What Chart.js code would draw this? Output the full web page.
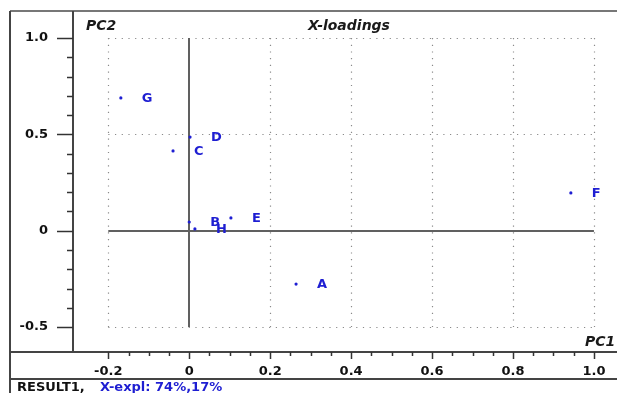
<!DOCTYPE html>
<html lang="en">
<head>
<meta charset="UTF-8">
<title>X-loadings</title>
<script src="https://cdn.jsdelivr.net/npm/chart.js"></script>
<style>
  html, body { margin: 0; padding: 0; background: #fff; }
  #chart { display: block; }
</style>
</head>
<body>
<canvas id="chart" width="617" height="393"></canvas>
<script>
// loadings
const names = ['A', 'B', 'C', 'D', 'E', 'F', 'G', 'H'];
const pc1 = [0.264, 0.0, -0.040, 0.002, 0.103, 0.943, -0.169, 0.014];
const pc2 = [-0.277, 0.045, 0.414, 0.486, 0.066, 0.196, 0.689, 0.009];

const xTicks = [-0.2, 0, 0.2, 0.4, 0.6, 0.8, 1.0];
const yTicks = [-0.5, 0, 0.5, 1.0];
const xMinorStep = 0.05;
const yMinorStep = 0.1;

const BLUE = '#1e1ed2';
const FONT = 'DejaVu Sans';

function fmt(v) {
  return Math.abs(v) < 1e-9 ? '0' : v.toFixed(1);
}

// keep chart.js from shrinking the plot to make room for edge labels
function noPad(s) {
  s.paddingLeft = 0; s.paddingRight = 0; s.paddingTop = 0; s.paddingBottom = 0;
}

const framePlugin = {
  id: 'frame',
  beforeDatasetsDraw(chart) {
    const ctx = chart.ctx;
    const x = chart.scales.x, y = chart.scales.y;
    const x0 = x.getPixelForValue(xTicks[0]), x1 = x.getPixelForValue(xTicks[xTicks.length - 1]);
    const y0 = y.getPixelForValue(yTicks[0]), y1 = y.getPixelForValue(yTicks[yTicks.length - 1]);
    ctx.save();
    // dotted grid
    ctx.strokeStyle = '#8a8a8a';
    ctx.lineWidth = 1.2;
    ctx.setLineDash([1.2, 5.5]);
    xTicks.forEach(v => {
      if (v === 0) return;
      const px = Math.round(x.getPixelForValue(v)) + 0.5;
      ctx.beginPath(); ctx.moveTo(px, y1); ctx.lineTo(px, y0); ctx.stroke();
    });
    yTicks.forEach(v => {
      if (v === 0) return;
      const py = Math.round(y.getPixelForValue(v)) + 0.5;
      ctx.beginPath(); ctx.moveTo(x0, py); ctx.lineTo(x1, py); ctx.stroke();
    });
    // zero axes
    ctx.setLineDash([]);
    ctx.strokeStyle = '#606060';
    ctx.lineWidth = 2;
    const zx = Math.round(x.getPixelForValue(0));
    const zy = Math.round(y.getPixelForValue(0));
    ctx.beginPath(); ctx.moveTo(x0, zy); ctx.lineTo(x1, zy); ctx.stroke();
    ctx.beginPath(); ctx.moveTo(zx, y1); ctx.lineTo(zx, y0); ctx.stroke();
    ctx.restore();
  },
  afterDatasetsDraw(chart) {
    const ctx = chart.ctx;
    const meta = chart.getDatasetMeta(0);
    ctx.save();
    ctx.fillStyle = BLUE;
    ctx.font = 'bold 13px "' + FONT + '"';
    ctx.textAlign = 'left';
    ctx.textBaseline = 'middle';
    meta.data.forEach((pt, i) => {
      ctx.fillText(names[i], pt.x + 21, pt.y + 1);
    });
    ctx.restore();
  },
  afterDraw(chart) {
    const ctx = chart.ctx;
    const a = chart.chartArea;
    const x = chart.scales.x, y = chart.scales.y;
    const W = chart.width, H = chart.height;
    ctx.save();
    // outer frame
    ctx.strokeStyle = '#777';
    ctx.lineWidth = 2;
    ctx.beginPath(); ctx.moveTo(10, 11); ctx.lineTo(W, 11); ctx.stroke();
    ctx.strokeStyle = '#444';
    ctx.beginPath(); ctx.moveTo(10, 11); ctx.lineTo(10, H); ctx.stroke();
    ctx.beginPath(); ctx.moveTo(a.left, 11); ctx.lineTo(a.left, a.bottom); ctx.stroke();
    ctx.beginPath(); ctx.moveTo(10, a.bottom); ctx.lineTo(W, a.bottom); ctx.stroke();
    ctx.beginPath(); ctx.moveTo(10, 379); ctx.lineTo(W, 379); ctx.stroke();

    // tick marks
    ctx.strokeStyle = '#333';
    ctx.lineWidth = 1.5;
    const n = Math.round((xTicks[xTicks.length - 1] - xTicks[0]) / xMinorStep);
    for (let i = 0; i <= n; i++) {
      const v = xTicks[0] + i * xMinorStep;
      const major = i % 4 === 0;
      const px = Math.round(x.getPixelForValue(v)) + 0.5;
      ctx.beginPath(); ctx.moveTo(px, a.bottom); ctx.lineTo(px, a.bottom + (major ? 7 : 4)); ctx.stroke();
    }
    const m = Math.round((yTicks[yTicks.length - 1] - yTicks[0]) / yMinorStep);
    for (let i = 0; i <= m; i++) {
      const v = yTicks[0] + i * yMinorStep;
      const major = i % 5 === 0;
      const py = Math.round(y.getPixelForValue(v)) + 0.5;
      ctx.beginPath(); ctx.moveTo(a.left, py); ctx.lineTo(a.left - (major ? 16 : 6), py); ctx.stroke();
    }

    // titles
    ctx.fillStyle = '#1a1a1a';
    ctx.font = 'italic bold 14px "' + FONT + '"';
    ctx.textBaseline = 'middle';
    ctx.textAlign = 'left';
    ctx.fillText('PC2', 86, 26);
    ctx.fillText('X-loadings', 308, 26);
    ctx.fillText('PC1', 585, 342);

    // status line
    ctx.font = 'bold 13px "' + FONT + '"';
    ctx.textBaseline = 'alphabetic';
    ctx.fillStyle = '#111';
    ctx.fillText('RESULT1,', 17, 391);
    ctx.fillStyle = BLUE;
    ctx.fillText('X-expl: 74%,17%', 100, 391);
    ctx.restore();
  }
};

const ctx = document.getElementById('chart').getContext('2d');
new Chart(ctx, {
  type: 'scatter',
  data: {
    datasets: [{
      label: 'X-loadings',
      data: pc1.map((v, i) => ({ x: v, y: pc2[i] })),
      backgroundColor: BLUE,
      borderColor: BLUE,
      pointRadius: 1.6,
      borderWidth: 0
    }]
  },
  options: {
    responsive: false,
    animation: false,
    layout: { autoPadding: false, padding: { top: 11, left: 0, right: 0, bottom: 0 } },
    plugins: {
      legend: { display: false },
      tooltip: { enabled: false },
      title: { display: false }
    },
    scales: {
      x: {
        type: 'linear',
        position: 'bottom',
        min: -0.2872,
        max: 1.057,
        afterBuildTicks: s => { s.ticks = xTicks.map(v => ({ value: v })); },
        afterFit: s => { s.height = 41; noPad(s); },
        grid: { display: true, drawOnChartArea: false, color: 'rgba(0,0,0,0)', tickLength: 7 },
        border: { display: false },
        ticks: {
          padding: 5,
          maxRotation: 0,
          autoSkip: false,
          color: '#111',
          font: { family: FONT, size: 13, weight: 'bold' },
          callback: v => fmt(v)
        }
      },
      y: {
        type: 'linear',
        position: 'left',
        min: -0.6295,
        max: 1.14,
        afterBuildTicks: s => { s.ticks = yTicks.map(v => ({ value: v })); },
        afterFit: s => { s.width = 73; noPad(s); },
        grid: { display: true, drawOnChartArea: false, color: 'rgba(0,0,0,0)', tickLength: 16 },
        border: { display: false },
        ticks: {
          padding: 9,
          autoSkip: false,
          color: '#111',
          font: { family: FONT, size: 13, weight: 'bold' },
          callback: v => fmt(v)
        }
      }
    }
  },
  plugins: [framePlugin]
});
</script>
</body>
</html>
